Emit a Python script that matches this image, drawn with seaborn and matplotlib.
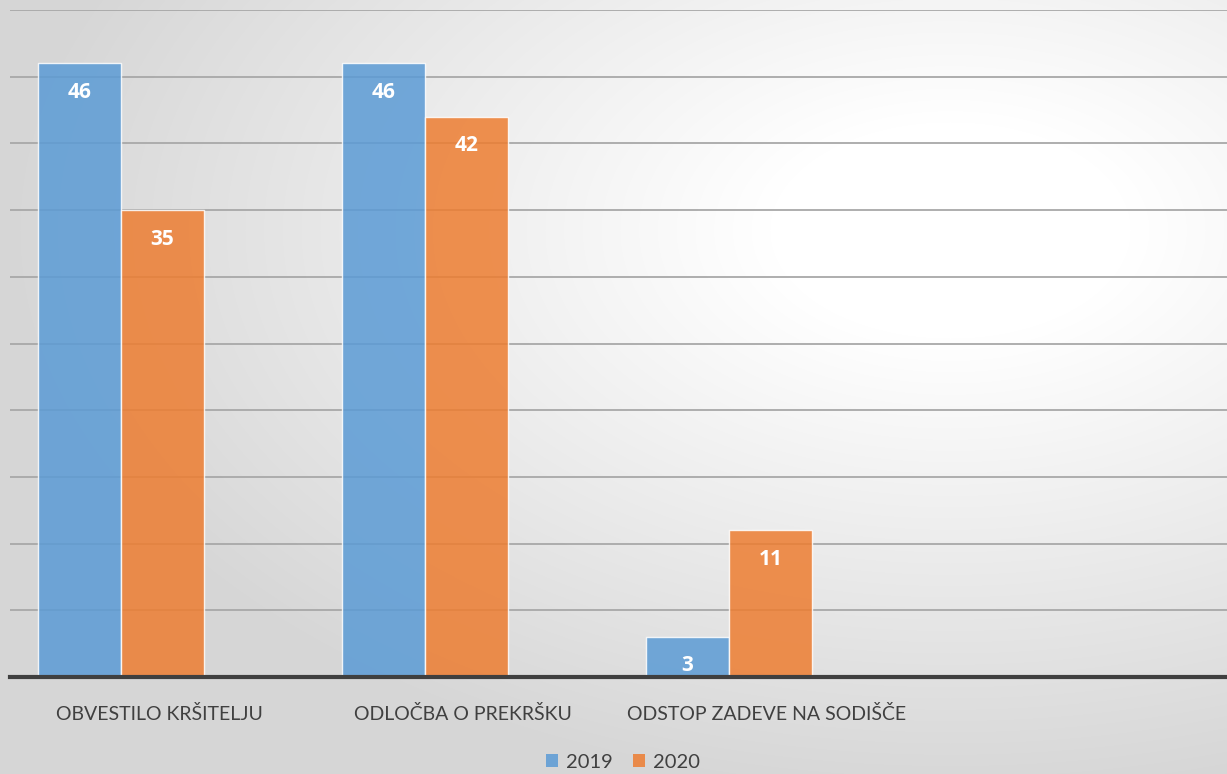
import numpy as np
import pandas as pd
import matplotlib
matplotlib.use("Agg")
import matplotlib.pyplot as plt
import matplotlib.transforms as mtransforms
from matplotlib.patches import Patch
import seaborn as sns

categories = ["OBVESTILO KRŠITELJU", "ODLOČBA O PREKRŠKU", "ODSTOP ZADEVE NA SODIŠČE"]
years = ["2019", "2020"]
values_2019 = [46, 46, 3]
values_2020 = [35, 42, 11]

df = pd.DataFrame({
    "cat": categories * 2,
    "year": [years[0]] * 3 + [years[1]] * 3,
    "val": values_2019 + values_2020,
})

sns.set_theme(style="white")
plt.rcParams["font.family"] = ["Lato", "DejaVu Sans"]

W, H = 1227, 774
fig = plt.figure(figsize=(W / 100, H / 100), dpi=100)

# background radial gradient
bg = fig.add_axes([0, 0, 1, 1], zorder=-10)
yy, xx = np.mgrid[0:H, 0:W]
r = np.sqrt(((xx - 950) / 900.0) ** 2 + ((yy - 230) / 540.0) ** 2)
shade = 1 - 0.16 * np.clip((r - 0.2) / 0.85, 0, 1)
bg.imshow(np.dstack([shade] * 3), aspect="auto", extent=[0, 1, 0, 1], origin="upper")
bg.axis("off")

ax = fig.add_axes([10 / W, (H - 677) / H, (W - 10) / W, (677 - 10) / H])
ax.set_facecolor("none")

palette = {"2019": "#5B9BD5", "2020": "#ED7D31"}
sns.barplot(data=df, x="cat", y="val", hue="year", order=categories, hue_order=years,
            palette=palette, width=0.546, gap=0, ax=ax, legend=False,
            edgecolor="#FFFFFF", linewidth=1.0, alpha=0.85, saturation=1, zorder=3)

ax.set_xlim(-0.365, 3.638)
ax.set_ylim(0, 50)
ax.set_yticks(np.arange(5, 51, 5))
ax.set_yticklabels([])
ax.tick_params(axis="y", length=0)
ax.grid(axis="y", color="#A8A8A8", linewidth=1.3, zorder=0)
ax.set_axisbelow(True)
for s in ["top", "right", "left"]:
    ax.spines[s].set_visible(False)
ax.spines["bottom"].set_color("#3F3F3F")
ax.spines["bottom"].set_linewidth(3)
ax.spines["bottom"].set_zorder(5)
ax.set_xlabel("")
ax.set_ylabel("")
ax.tick_params(axis="x", length=0, pad=20, labelcolor="#404040", labelsize=14)
offset = mtransforms.ScaledTranslation(0.38, 0, fig.dpi_scale_trans)
for lbl in ax.get_xticklabels():
    lbl.set_transform(lbl.get_transform() + offset)

for cont in ax.containers:
    for bar in cont:
        h = bar.get_height()
        ax.annotate(f"{h:.0f}", (bar.get_x() + bar.get_width() / 2, h),
                    xytext=(0, -29), textcoords="offset pixels",
                    ha="center", va="center", color="white", fontsize=15,
                    fontweight="bold", family=["Open Sans", "DejaVu Sans"], zorder=6)

handles = [Patch(facecolor=palette[y], edgecolor="none", alpha=0.85) for y in years]
leg = fig.legend(handles, years, loc="center", bbox_to_anchor=(623 / W, (H - 762) / H), ncol=2,
                 frameon=False, fontsize=14.5, handlelength=0.6, handleheight=0.6,
                 handletextpad=0.4, columnspacing=1.0, labelcolor="#404040")

fig.savefig("out.png", dpi=100)
